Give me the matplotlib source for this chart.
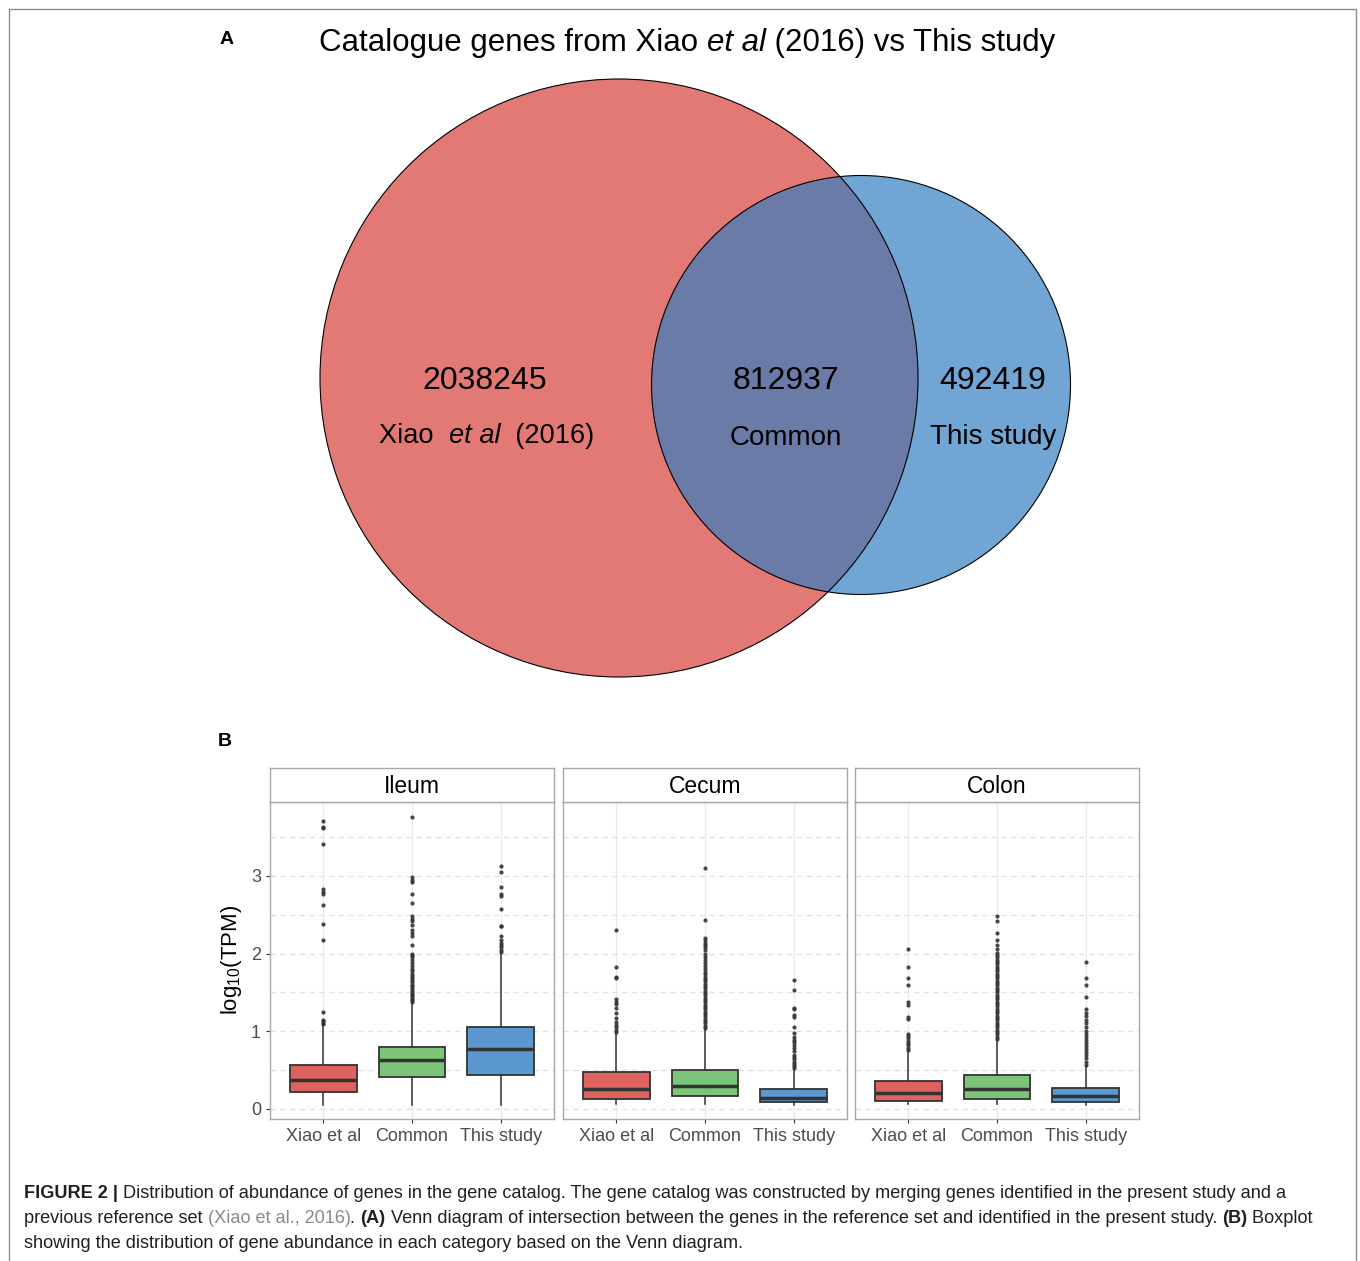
import matplotlib
matplotlib.use('Agg')
import matplotlib.pyplot as plt
from matplotlib.patches import Circle

plt.rcParams['font.family'] = ['Liberation Sans', 'DejaVu Sans']
plt.rcParams['mathtext.fontset'] = 'custom'
plt.rcParams['mathtext.rm'] = 'Liberation Sans'
plt.rcParams['mathtext.default'] = 'regular'

# Venn counts
venn_counts = [2038245, 812937, 492419]
venn_names = ['Xiao', 'Common', 'This study']

# Boxplot summaries (log10 TPM)
groups = ['Xiao et al', 'Common', 'This study']
tissues = ['Ileum', 'Cecum', 'Colon']
box_colors = ['#DE625E', '#7CC478', '#5A98CE']

ileum_med = [0.37, 0.63, 0.77]
ileum_q1 = [0.215, 0.417, 0.438]
ileum_q3 = [0.563, 0.80, 1.057]
ileum_lo = [0.05, 0.05, 0.05]
ileum_hi = [1.07, 1.37, 2.0]
ileum_xiao_out = [1.09, 1.11, 1.13, 1.15, 1.25, 2.17, 2.38, 2.62, 2.77, 2.79,
                  2.83, 3.41, 3.62, 3.63, 3.70]
ileum_common_out = [1.38, 1.40, 1.42, 1.44, 1.46, 1.48, 1.50, 1.53, 1.55, 1.58,
                    1.60, 1.63, 1.66, 1.68, 1.71, 1.74, 1.77, 1.80, 1.84, 1.88,
                    1.92, 1.95, 1.98, 2.00, 2.11, 2.22, 2.26, 2.30, 2.37, 2.42,
                    2.45, 2.48, 2.65, 2.77, 2.92, 2.94, 2.98, 3.76]
ileum_this_out = [2.02, 2.05, 2.08, 2.11, 2.14, 2.18, 2.22, 2.35, 2.36, 2.57,
                  2.74, 2.76, 2.85, 3.05, 3.12]

cecum_med = [0.26, 0.30, 0.146]
cecum_q1 = [0.125, 0.16, 0.086]
cecum_q3 = [0.47, 0.50, 0.25]
cecum_lo = [0.06, 0.06, 0.05]
cecum_hi = [0.975, 1.02, 0.50]
cecum_xiao_out = [0.99, 1.02, 1.06, 1.08, 1.12, 1.17, 1.23, 1.30, 1.35, 1.38,
                  1.42, 1.68, 1.70, 1.83, 2.30]
cecum_common_out = [1.04, 1.07, 1.10, 1.13, 1.16, 1.19, 1.22, 1.25, 1.28, 1.31,
                    1.34, 1.37, 1.40, 1.43, 1.46, 1.49, 1.52, 1.55, 1.58, 1.61,
                    1.64, 1.67, 1.70, 1.73, 1.76, 1.80, 1.84, 1.88, 1.92, 1.96,
                    2.00, 2.04, 2.08, 2.11, 2.14, 2.17, 2.20, 2.43, 3.10]
cecum_this_out = [0.52, 0.55, 0.58, 0.61, 0.64, 0.67, 0.70, 0.74, 0.78, 0.82,
                  0.86, 0.89, 0.93, 0.98, 1.06, 1.18, 1.21, 1.28, 1.30, 1.53, 1.66]

colon_med = [0.20, 0.25, 0.163]
colon_q1 = [0.107, 0.133, 0.086]
colon_q3 = [0.365, 0.44, 0.27]
colon_lo = [0.06, 0.06, 0.05]
colon_hi = [0.74, 0.87, 0.55]
colon_xiao_out = [0.76, 0.79, 0.82, 0.85, 0.88, 0.91, 0.94, 0.97, 1.16, 1.18,
                  1.34, 1.37, 1.59, 1.68, 1.83, 2.06]
colon_common_out = [0.90, 0.93, 0.96, 0.99, 1.02, 1.05, 1.08, 1.11, 1.14, 1.17,
                    1.20, 1.23, 1.26, 1.29, 1.32, 1.35, 1.38, 1.41, 1.44, 1.47,
                    1.50, 1.53, 1.56, 1.59, 1.62, 1.65, 1.68, 1.71, 1.74, 1.77,
                    1.80, 1.83, 1.86, 1.89, 1.92, 1.95, 1.98, 2.01, 2.06, 2.11,
                    2.17, 2.26, 2.42, 2.48]
colon_this_out = [0.57, 0.61, 0.65, 0.69, 0.73, 0.77, 0.81, 0.85, 0.89, 0.93,
                  0.97, 1.00, 1.06, 1.10, 1.14, 1.19, 1.23, 1.28, 1.44, 1.59,
                  1.68, 1.89]

panels = [
    (ileum_med, ileum_q1, ileum_q3, ileum_lo, ileum_hi,
     [ileum_xiao_out, ileum_common_out, ileum_this_out]),
    (cecum_med, cecum_q1, cecum_q3, cecum_lo, cecum_hi,
     [cecum_xiao_out, cecum_common_out, cecum_this_out]),
    (colon_med, colon_q1, colon_q3, colon_lo, colon_hi,
     [colon_xiao_out, colon_common_out, colon_this_out]),
]

W, H = 1360, 1261
fig = plt.figure(figsize=(W / 100, H / 100), dpi=100)
renderer = fig.canvas.get_renderer()

# background canvas in pixel units
ax0 = fig.add_axes([0, 0, 1, 1])
ax0.set_xlim(0, W)
ax0.set_ylim(H, 0)
ax0.axis('off')


def rich_text(ax, x, y, pieces, ha='left', va='baseline', **kw):
    """Draw text pieces with different styles one after another."""
    items = []
    cur = x
    for s, style in pieces:
        opts = dict(kw)
        opts.update(style)
        t = ax.text(cur, y, s, ha='left', va=va, **opts)
        w = t.get_window_extent(renderer).width
        items.append(t)
        cur += w
    if ha == 'center':
        shift = (cur - x) / 2
        for t in items:
            px, py = t.get_position()
            t.set_position((px - shift, py))
    return items


# outer frame
ax0.plot([9, 9, 1356, 1356], [H + 5, 9, 9, H + 5], color='#8C8C8C', lw=1)

# ---- panel A: Venn ----
ax0.text(227, 39, 'A', fontsize=14, fontweight='bold', ha='center', va='center')
rich_text(ax0, 687, 43, [('Catalogue genes from Xiao ', {}), ('et al', {'style': 'italic'}),
                         (' (2016) vs This study', {})],
          ha='center', va='center', fontsize=22.5)

red = Circle((619, 378), 299, fc='#E27974', ec='none')
blue = Circle((861, 385), 209.5, fc='#70A5D4', ec='none')
ax0.add_patch(red)
ax0.add_patch(blue)
mid = Circle((861, 385), 209.5, fc='#6A7BA8', ec='none')
ax0.add_patch(mid)
mid.set_clip_path(red)
ax0.add_patch(Circle((619, 378), 299, fc='none', ec='black', lw=0.8))
ax0.add_patch(Circle((861, 385), 209.5, fc='none', ec='black', lw=0.8))

num_x = [485, 786, 993]
for x, n in zip(num_x, venn_counts):
    ax0.text(x, 381, str(n), fontsize=23, ha='center', va='center')
rich_text(ax0, 487, 436, [(venn_names[0] + '  ', {}), ('et al', {'style': 'italic'}),
                          ('  (2016)', {})], ha='center', va='center', fontsize=19.6)
ax0.text(num_x[1], 438, venn_names[1], fontsize=20, ha='center', va='center')
ax0.text(num_x[2], 437, venn_names[2], fontsize=20, ha='center', va='center')

# ---- panel B: boxplots ----
ax0.text(225, 741, 'B', fontsize=14, fontweight='bold', ha='center', va='center')

panel_x = [270, 563, 855]
pw = 284
p_top, p_bot, s_top = 802, 1119, 768
for i, (tissue, (med, q1, q3, lo, hi, outs)) in enumerate(zip(tissues, panels)):
    ax = fig.add_axes([panel_x[i] / W, 1 - p_bot / H, pw / W, (p_bot - p_top) / H])
    stats = []
    for j in range(3):
        stats.append({'med': med[j], 'q1': q1[j], 'q3': q3[j],
                      'whislo': lo[j], 'whishi': hi[j], 'fliers': outs[j]})
    bp = ax.bxp(stats, positions=[1, 2, 3], widths=0.75, patch_artist=True,
                showcaps=False,
                boxprops=dict(edgecolor='#333333', linewidth=1.3),
                medianprops=dict(color='#333333', linewidth=2.5),
                whiskerprops=dict(color='#333333', linewidth=1.1),
                flierprops=dict(marker='o', markersize=3.0, markerfacecolor='#333333',
                                markeredgecolor='none', alpha=0.9))
    for patch, c in zip(bp['boxes'], box_colors):
        patch.set_facecolor(c)
    ax.set_xlim(0.4, 3.6)
    ax.set_ylim(-0.13, 3.95)
    ax.set_yticks([0, 1, 2, 3])
    ax.set_yticks([0.5, 1.5, 2.5, 3.5], minor=True)
    ax.set_xticks([1, 2, 3])
    ax.set_xticklabels(groups)
    ax.grid(axis='y', which='both', color='#E3E3E3', linestyle=(0, (4, 3)), lw=1)
    ax.grid(axis='x', which='major', color='#EBEBEB', linestyle='-', lw=1)
    ax.set_axisbelow(True)
    ax.tick_params(axis='both', which='major', labelsize=13, labelcolor='#4D4D4D',
                   color='#333333', length=3, width=0.8)
    ax.tick_params(axis='y', which='minor', length=0)
    if i > 0:
        ax.tick_params(axis='y', left=False, labelleft=False)
    for sp in ax.spines.values():
        sp.set_color('#A8A8A8')
        sp.set_linewidth(1)

    # strip
    sax = fig.add_axes([panel_x[i] / W, 1 - p_top / H, pw / W, (p_top - s_top) / H])
    sax.set_xticks([])
    sax.set_yticks([])
    for sp in sax.spines.values():
        sp.set_color('#A8A8A8')
        sp.set_linewidth(1)
    sax.text(0.5, 0.47, tissue, fontsize=16.5, ha='center', va='center',
             transform=sax.transAxes)

ax0.text(232, 960, 'log$_{10}$(TPM)', fontsize=16, rotation=90, ha='center', va='center')

# ---- caption ----
cap = {'fontsize': 13.1, 'color': '#231F20'}
bold = {'fontweight': 'bold'}
grey = {'color': '#8A8A8A'}
rich_text(ax0, 24, 1198, [('FIGURE 2 |', bold),
                          (' Distribution of abundance of genes in the gene catalog. The gene catalog '
                           'was constructed by merging genes identified in the present study and a', {})],
          **cap)
rich_text(ax0, 24, 1223, [('previous reference set ', {}), ('(Xiao et al., 2016)', grey),
                          ('. ', {}), ('(A)', bold),
                          (' Venn diagram of intersection between the genes in the reference set and '
                           'identified in the present study. ', {}), ('(B)', bold), (' Boxplot', {})],
          **cap)
rich_text(ax0, 24, 1248, [('showing the distribution of gene abundance in each category based on '
                           'the Venn diagram.', {})], **cap)

fig.savefig('out.png', dpi=100)
